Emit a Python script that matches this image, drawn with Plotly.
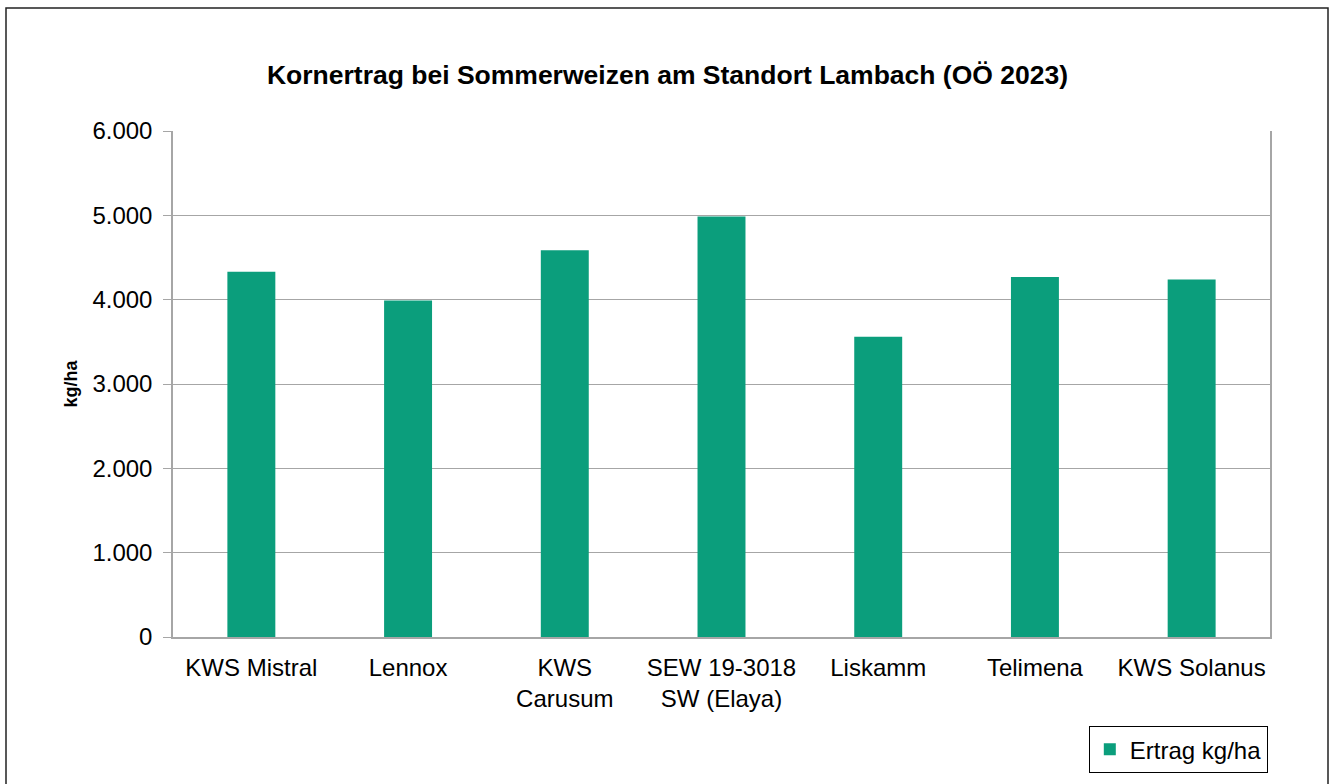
import plotly.graph_objects as go

categories = ["KWS Mistral", "Lennox", "KWS<br>Carusum", "SEW 19-3018<br>SW (Elaya)",
              "Liskamm", "Telimena", "KWS Solanus"]
ertrag = [4330, 3990, 4585, 4985, 3560, 4270, 4240]
series_name = "Ertrag kg/ha"
title_text = "Kornertrag bei Sommerweizen am Standort Lambach (OÖ 2023)"
y_title = "kg/ha"

FONT = "Liberation Sans, Arial, Helvetica, sans-serif"
GRID = "#a6a6a6"

fig = go.Figure()
fig.add_trace(go.Bar(
    x=categories, y=ertrag, name=series_name,
    marker=dict(color="#0b9e7c", line=dict(width=0)),
    showlegend=True,
))

fig.update_layout(
    width=1335, height=784,
    paper_bgcolor="white", plot_bgcolor="white",
    margin=dict(l=173, r=65, t=131, b=147, autoexpand=False),
    separators=",.",
    bargap=0.694,
    font=dict(family=FONT, color="black", size=24),
    title=dict(text="<b>" + title_text + "</b>", x=0.5, xanchor="center",
               y=1 - 75 / 784, yanchor="middle", yref="container",
               font=dict(size=26.5, family=FONT, color="black")),
    showlegend=True,
    legend=dict(x=0.998, xanchor="right", y=-0.176, yanchor="top",
                bordercolor="black", borderwidth=1, bgcolor="white",
                font=dict(size=24, family=FONT), itemsizing="constant",
                itemwidth=30, tracegroupgap=0),
    xaxis=dict(showgrid=False, showline=True, linecolor=GRID, linewidth=1.5,
               ticks="", tickfont=dict(size=24), mirror=False,
               ticklabelstandoff=8),
    yaxis=dict(range=[0, 6000], dtick=1000, tickformat=",.0f",
               showgrid=True, gridcolor=GRID, gridwidth=1.2,
               showline=True, linecolor=GRID, linewidth=1.5, mirror=True,
               ticks="outside", ticklen=8, tickcolor=GRID, tickwidth=1.2,
               ticklabelstandoff=6,
               tickfont=dict(size=24), zeroline=False,
               title=dict(text="<b>" + y_title + "</b>", standoff=10,
                          font=dict(size=18, family=FONT))),
    shapes=[dict(type="rect", xref="paper", yref="paper",
                 x0=(6 - 173) / 1097, x1=(1328 - 173) / 1097,
                 y0=(637 - 800) / 506, y1=(637 - 8) / 506,
                 line=dict(color="#222222", width=1.5), fillcolor="rgba(0,0,0,0)",
                 layer="below")],
)

fig.write_html("out.html", config={"displayModeBar": False},
               post_script="document.body.style.margin='0px';")
